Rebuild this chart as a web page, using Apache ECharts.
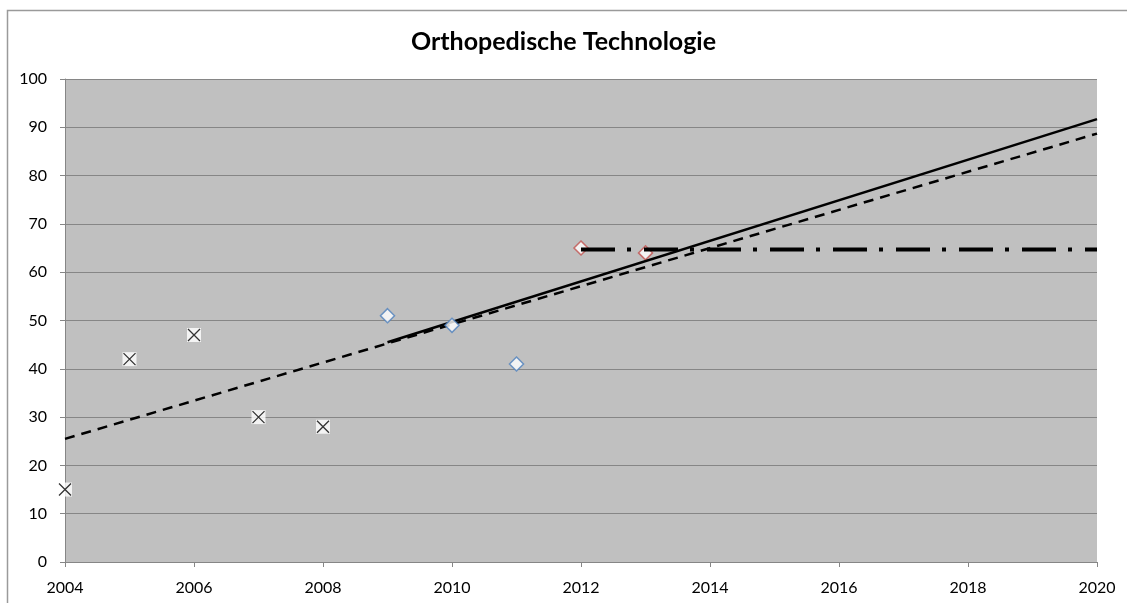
<!DOCTYPE html>
<html>
<head>
<meta charset="utf-8">
<script src="https://cdn.jsdelivr.net/npm/echarts@6/dist/echarts.min.js"></script>
<style>html,body{margin:0;padding:0;background:#fff}#c{width:1127px;height:603px}</style>
</head>
<body>
<div id="c"></div>
<script>
// Data
const yearsA = [2004, 2005, 2006, 2007, 2008];
const valuesA = [15, 42, 47, 30, 28];
const yearsB = [2009, 2010, 2011];
const valuesB = [51, 49, 41];
const yearsC = [2012, 2013];
const valuesC = [65, 64];
// trend line endpoints
const trendAllYears = [2004, 2020];
const trendAllValues = [25.5, 88.7];
const trendRecentYears = [2009, 2020];
const trendRecentValues = [45.5, 91.7];
const levelYears = [2012, 2020];
const levelValues = [64.7, 64.7];
const title = 'Orthopedische Technologie';

const zip = (xs, ys) => xs.map((x, i) => [x, ys[i]]);
const font = 'Lato, "Liberation Sans", sans-serif';

const chart = echarts.init(document.getElementById('c'), null, {renderer: 'canvas'});
chart.setOption({
  animation: false,
  backgroundColor: '#ffffff',
  title: {
    text: title, left: 'center', top: 24,
    textStyle: {fontFamily: font, fontWeight: 'bold', fontSize: 25, color: '#000'}
  },
  graphic: [{
    type: 'polyline', silent: true, z: -1,
    shape: {points: [[7.5, 603], [7.5, 10.5], [1127, 10.5]]},
    style: {fill: 'none', stroke: '#9a9a9a', lineWidth: 1.5}
  }],
  grid: {left: 65, right: 30, top: 79, bottom: 41, show: true, backgroundColor: '#c0c0c0', borderWidth: 0},
  xAxis: {
    type: 'value', min: 2004, max: 2020, interval: 2,
    axisLine: {show: true, onZero: false, lineStyle: {color: '#868686', width: 1}},
    axisTick: {show: true, length: 5, lineStyle: {color: '#868686'}},
    splitLine: {show: false},
    axisLabel: {color: '#000', fontSize: 16, fontFamily: font, margin: 18, formatter: v => String(v)}
  },
  yAxis: {
    type: 'value', min: 0, max: 100, interval: 10,
    axisLine: {show: true, lineStyle: {color: '#868686', width: 1}},
    axisTick: {show: true, length: 5, lineStyle: {color: '#868686'}},
    splitLine: {show: true, lineStyle: {color: '#868686', width: 1}},
    axisLabel: {color: '#000', fontSize: 16, fontFamily: font, margin: 18}
  },
  series: [
    {
      type: 'line', data: zip(trendAllYears, trendAllValues), showSymbol: false, z: 3,
      lineStyle: {color: '#000', width: 2.5, type: [10, 7]}
    },
    {
      type: 'line', data: zip(trendRecentYears, trendRecentValues), showSymbol: false, z: 3,
      lineStyle: {color: '#000', width: 2.5, type: 'solid'}
    },
    {
      type: 'line', data: zip(levelYears, levelValues), showSymbol: false, z: 3,
      lineStyle: {color: '#000', width: 4, type: [34, 12, 4, 13]}
    },
    {
      type: 'scatter', data: zip(yearsA, valuesA), symbol: 'rect', symbolSize: 14, z: 4, clip: false,
      itemStyle: {color: '#ffffff', borderWidth: 0}
    },
    {
      type: 'scatter', data: zip(yearsA, valuesA), symbol: 'path://M0,0L10,10M10,0L0,10', symbolSize: 12, z: 5, clip: false,
      itemStyle: {color: 'none', borderColor: '#000', borderWidth: 1.3}
    },
    {
      type: 'scatter', data: zip(yearsB, valuesB), symbol: 'diamond', symbolSize: 14, z: 4, clip: false,
      itemStyle: {color: '#ffffff', borderColor: '#4f81bd', borderWidth: 1.5}
    },
    {
      type: 'scatter', data: zip(yearsC, valuesC), symbol: 'diamond', symbolSize: 14, z: 2, clip: false,
      itemStyle: {color: '#ffffff', borderColor: '#c0504d', borderWidth: 1.5}
    }
  ]
});
</script>
</body>
</html>
